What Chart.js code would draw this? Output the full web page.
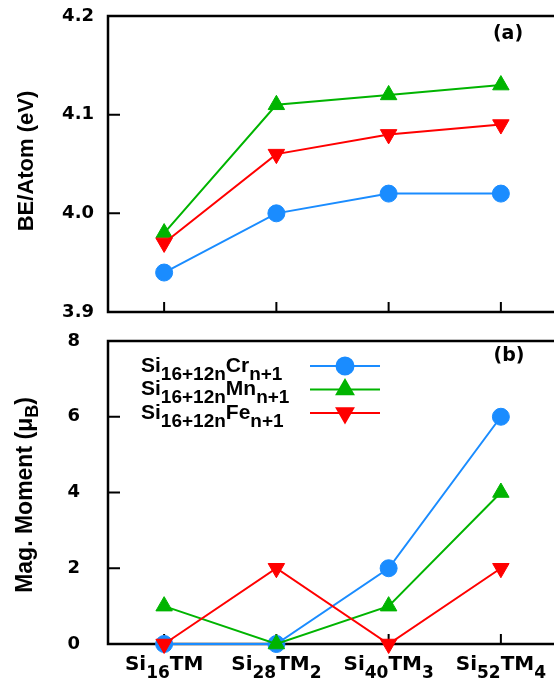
<!DOCTYPE html>
<html><head><meta charset="utf-8">
<script src="https://cdn.jsdelivr.net/npm/chart.js@4.4.0/dist/chart.umd.min.js"></script>
<style>
html,body{margin:0;padding:0;background:#fff;overflow:hidden;width:554px;height:687px}
canvas{position:absolute;left:0}
</style></head><body>
<canvas id="c1" width="564" height="330" style="top:0;width:564px;height:330px"></canvas>
<canvas id="c2" width="564" height="357" style="top:330px;width:564px;height:357px"></canvas>
<script>
// ---- data ----
const categories = ['Si_{16}TM', 'Si_{28}TM_{2}', 'Si_{40}TM_{3}', 'Si_{52}TM_{4}'];
const seriesNames = ['Si_{16+12n}Cr_{n+1}', 'Si_{16+12n}Mn_{n+1}', 'Si_{16+12n}Fe_{n+1}'];
const beCr = [3.94, 4.00, 4.02, 4.02];
const beMn = [3.98, 4.11, 4.12, 4.13];
const beFe = [3.97, 4.06, 4.08, 4.09];
const momCr = [0, 0, 2, 6];
const momMn = [1, 0, 1, 4];
const momFe = [0, 2, 0, 2];
const beTicks = [3.9, 4.0, 4.1, 4.2];
const momTicks = [0, 2, 4, 6, 8];
const beTitle = 'BE/Atom (eV)';
const momTitle = 'Mag. Moment (μ_{B})';
const panelLabels = ['(a)', '(b)'];

// ---- styles ----
const colors = ['#1a8cff', '#00b400', '#ff0000'];
const styles = [
  {pointStyle: 'circle', radius: 8.5, rotation: 0},
  {pointStyle: 'triangle', radius: 9.5, rotation: 0},
  {pointStyle: 'triangle', radius: 9.5, rotation: 180}
];
const drawOrder = [3, 2, 1];

function parseRich(s) {
  const segs = []; const re = /_\{([^}]*)\}|([^_]+)/g; let m;
  while ((m = re.exec(s))) {
    if (m[1] !== undefined) segs.push({t: m[1], sub: true}); else segs.push({t: m[2], sub: false});
  }
  return segs;
}
function richWidth(ctx, segs, f) {
  let w = 0;
  for (const s of segs) { ctx.font = s.sub ? f.sub : f.main; w += ctx.measureText(s.t).width; }
  return w;
}
function drawRich(ctx, segs, x, y, f, subDy) {
  for (const s of segs) {
    ctx.font = s.sub ? f.sub : f.main;
    ctx.fillText(s.t, x, y + (s.sub ? subDy : 0));
    x += ctx.measureText(s.t).width;
  }
}

function makeDatasets(arrs) {
  return arrs.map((d, i) => ({
    label: seriesNames[i],
    data: d,
    borderColor: colors[i],
    backgroundColor: colors[i],
    borderWidth: 2,
    pointStyle: styles[i].pointStyle,
    pointRadius: styles[i].radius,
    pointRotation: styles[i].rotation,
    pointBorderWidth: 1,
    pointHoverRadius: styles[i].radius,
    order: drawOrder[i],
    clip: false,
    tension: 0
  }));
}

function framePlugin(id) {
  return {
    id: id,
    beforeDatasetsDraw(chart) {
      const {ctx, chartArea: a, scales} = chart;
      ctx.save();
      ctx.strokeStyle = '#000';
      ctx.lineWidth = 2.5;
      ctx.strokeRect(a.left, a.top, a.right - a.left, a.bottom - a.top);
      ctx.lineWidth = 2;
      ctx.beginPath();
      scales.y.ticks.forEach(t => {
        const y = scales.y.getPixelForValue(t.value);
        ctx.moveTo(a.left, y); ctx.lineTo(a.left + 12, y);
      });
      chart.data.labels.forEach((l, i) => {
        const x = scales.x.getPixelForValue(i);
        ctx.moveTo(x, a.bottom); ctx.lineTo(x, a.bottom - 10);
      });
      ctx.stroke();
      ctx.restore();
    }
  };
}

function yScale(ticksArr, min, max, pad, fmt) {
  return {
    min: min, max: max,
    afterBuildTicks: s => { s.ticks = ticksArr.map(v => ({value: v})); },
    afterFit: s => { s.width = 108; s.paddingTop = 0; s.paddingBottom = 0; },
    grid: {display: false, drawTicks: false},
    border: {display: false},
    ticks: {
      padding: pad, color: '#000',
      font: {family: 'DejaVu Sans', size: 18, weight: 'bold'},
      callback: v => fmt(v)
    }
  };
}

const common = (ys, padding) => ({
  responsive: false, maintainAspectRatio: false, animation: false, devicePixelRatio: 1,
  layout: {padding: padding, autoPadding: false},
  plugins: {legend: {display: false}, tooltip: {enabled: false}},
  events: [],
  scales: {
    x: {type: 'category', offset: true, display: false},
    y: ys
  }
});

// ---- chart (a) ----
new Chart(document.getElementById('c1'), {
  type: 'line',
  data: {labels: categories, datasets: makeDatasets([beCr, beMn, beFe])},
  options: common(yScale(beTicks, 3.9, 4.2, 14, v => v.toFixed(1)), {top: 16, bottom: 18, left: 0, right: 7}),
  plugins: [framePlugin('frameA'), {
    id: 'decorA',
    afterDraw(chart) {
      const ctx = chart.ctx;
      ctx.save();
      ctx.fillStyle = '#000';
      ctx.font = 'bold 19px "DejaVu Sans"';
      ctx.textAlign = 'center'; ctx.textBaseline = 'middle';
      ctx.fillText(panelLabels[0], 508, 34);
      ctx.translate(33, 161); ctx.rotate(-Math.PI / 2);
      ctx.textAlign = 'center'; ctx.textBaseline = 'alphabetic';
      ctx.font = 'bold 22px "Liberation Sans"';
      ctx.fillText(beTitle, 0, 0);
      ctx.restore();
    }
  }]
});

// ---- chart (b) ----
new Chart(document.getElementById('c2'), {
  type: 'line',
  data: {labels: categories, datasets: makeDatasets([momCr, momMn, momFe])},
  options: common(yScale(momTicks, 0, 8, 28, v => String(v)), {top: 11, bottom: 43, left: 0, right: 7}),
  plugins: [framePlugin('frameB'), {
    id: 'decorB',
    afterDraw(chart) {
      const ctx = chart.ctx; const xs = chart.scales.x;
      ctx.save();
      ctx.fillStyle = '#000';
      // panel label
      ctx.font = 'bold 19px "DejaVu Sans"';
      ctx.textAlign = 'center'; ctx.textBaseline = 'middle';
      ctx.fillText(panelLabels[1], 509, 26);
      ctx.textAlign = 'left'; ctx.textBaseline = 'alphabetic';
      // x category labels
      const fx = {main: 'bold 20px "DejaVu Sans"', sub: 'bold 17px "DejaVu Sans"'};
      categories.forEach((c, i) => {
        const segs = parseRich(c);
        const w = richWidth(ctx, segs, fx);
        const x = xs.getPixelForValue(i);
        drawRich(ctx, segs, x - w / 2, 340, fx, 8);
      });
      // legend
      const fl = {main: 'bold 21px "Liberation Sans"', sub: 'bold 19px "Liberation Sans"'};
      seriesNames.forEach((n, i) => {
        const my = 36 + i * 23.5;
        ctx.fillStyle = '#000';
        drawRich(ctx, parseRich(n), 141, my + 5.5, fl, 8);
        ctx.strokeStyle = colors[i]; ctx.lineWidth = 2;
        ctx.beginPath(); ctx.moveTo(310, my); ctx.lineTo(380, my); ctx.stroke();
        ctx.fillStyle = colors[i];
        Chart.helpers.drawPoint(ctx, {pointStyle: styles[i].pointStyle, radius: styles[i].radius, rotation: styles[i].rotation, borderWidth: 1}, 345, my);
      });
      // y title
      ctx.fillStyle = '#000';
      const ft = {main: 'bold 23px "Liberation Sans"', sub: 'bold 18px "Liberation Sans"'};
      const segs = parseRich(momTitle);
      const w = richWidth(ctx, segs, ft);
      ctx.translate(32, 165); ctx.rotate(-Math.PI / 2);
      drawRich(ctx, segs, -w / 2, 0, ft, 6);
      ctx.restore();
    }
  }]
});
</script>
</body></html>
